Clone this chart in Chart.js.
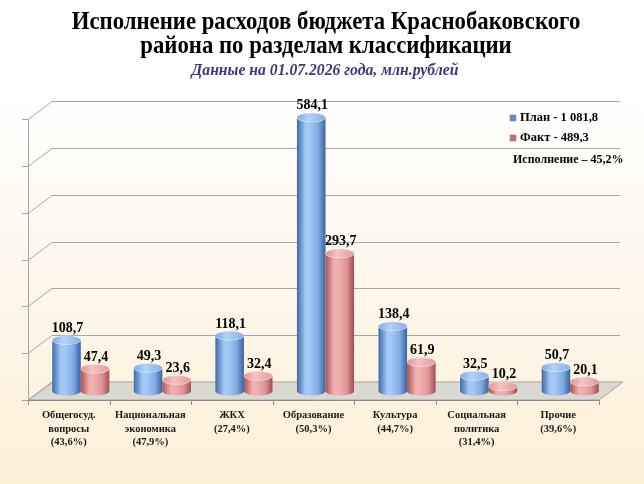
<!DOCTYPE html>
<html><head><meta charset="utf-8">
<script src="https://cdn.jsdelivr.net/npm/chart.js@4.4.1/dist/chart.umd.min.js"></script>
<style>html,body{margin:0;padding:0;background:#fff;}#wrap{width:644px;height:484px;}</style>
</head><body><div id="wrap"><canvas id="c" width="644" height="484"></canvas></div>
<script>
const titleLines = ['Исполнение расходов бюджета Краснобаковского', 'района по разделам классификации'];
const subtitle = 'Данные на 01.07.2026 года, млн.рублей';
const categories = [
  ['Общегосуд.', 'вопросы', '(43,6%)'],
  ['Национальная', 'экономика', '(47,9%)'],
  ['ЖКХ', '(27,4%)'],
  ['Образование', '(50,3%)'],
  ['Культура', '(44,7%)'],
  ['Социальная', 'политика', '(31,4%)'],
  ['Прочие', '(39,6%)']
];
const planValues = [108.7, 49.3, 118.1, 584.1, 138.4, 32.5, 50.7];
const factValues = [47.4, 23.6, 32.4, 293.7, 61.9, 10.2, 20.1];
const seriesLabels = ['План - 1 081,8', 'Факт - 489,3'];
const summaryText = 'Исполнение – 45,2%';
const yTicks = [0, 100, 200, 300, 400, 500, 600];

const DX = 12, DY = 9;
const SERIF = '"Liberation Serif", "Times New Roman", serif';
const fmt = v => v.toFixed(1).replace('.', ',');

const palettes = [
  {edge1:'#3f6aa8', light:'#a3c8f6', mid:'#7faae2', edge2:'#3a62a0', top:'#86afe6', topHi:'#b4d2f8', marker:'#5b8ad0'},
  {edge1:'#a85454', light:'#f0b0b0', mid:'#de9494', edge2:'#a04e4e', top:'#e39a9a', topHi:'#f4c4c4', marker:'#c46f6f'}
];

function drawCylinder(ctx, cx, w, top, base, pal) {
  const r = w / 2, ry = 4.5;
  const g = ctx.createLinearGradient(cx - r, 0, cx + r, 0);
  g.addColorStop(0, pal.edge1);
  g.addColorStop(0.3, pal.light);
  g.addColorStop(0.45, pal.light);
  g.addColorStop(0.75, pal.mid);
  g.addColorStop(1, pal.edge2);
  ctx.save();
  ctx.beginPath();
  ctx.moveTo(cx - r, top);
  ctx.lineTo(cx - r, base);
  ctx.ellipse(cx, base, r, ry, 0, Math.PI, 0, true);
  ctx.lineTo(cx + r, top);
  ctx.ellipse(cx, top, r, ry, 0, 0, Math.PI, false);
  ctx.closePath();
  ctx.fillStyle = g;
  ctx.fill();
  const tg = ctx.createLinearGradient(cx - r, top, cx + r, top);
  tg.addColorStop(0, pal.mid);
  tg.addColorStop(0.4, pal.topHi);
  tg.addColorStop(1, pal.top);
  ctx.beginPath();
  ctx.ellipse(cx, top, r, ry, 0, 0, Math.PI * 2);
  ctx.fillStyle = tg;
  ctx.fill();
  ctx.strokeStyle = 'rgba(255,255,255,0.35)';
  ctx.lineWidth = 0.8;
  ctx.stroke();
  ctx.restore();
}

function condensedText(ctx, text, cx, cy, sx) {
  ctx.save();
  ctx.translate(cx, cy);
  ctx.scale(sx, 1);
  ctx.fillText(text, 0, 0);
  ctx.restore();
}

const scene = {
  id: 'scene',
  beforeDraw(chart) {
    const ctx = chart.ctx, W = chart.width, H = chart.height;
    const {left, right} = chart.chartArea;
    const y = chart.scales.y, x = chart.scales.x;
    ctx.save();
    const bg = ctx.createLinearGradient(0, 0, 0, H);
    bg.addColorStop(0, '#ffffff');
    bg.addColorStop(0.2, '#ffffff');
    bg.addColorStop(1, '#fcefd6');
    ctx.fillStyle = bg;
    ctx.fillRect(0, 0, W, H);
    ctx.fillStyle = '#000';
    ctx.textAlign = 'center';
    ctx.textBaseline = 'alphabetic';
    ctx.font = 'bold 25px ' + SERIF;
    condensedText(ctx, titleLines[0], 326, 29, 0.91);
    condensedText(ctx, titleLines[1], 326, 53, 0.91);
    ctx.fillStyle = '#3b3780';
    ctx.font = 'italic bold 15.7px ' + SERIF;
    ctx.fillText(subtitle, 325, 75);
    ctx.strokeStyle = '#a6a6a6';
    ctx.lineWidth = 1;
    const y0 = y.getPixelForValue(0);
    ctx.beginPath();
    ctx.moveTo(left - DX, y0 + DY);
    ctx.lineTo(right - DX, y0 + DY);
    ctx.lineTo(right + DX, y0 - DY);
    ctx.lineTo(left + DX, y0 - DY);
    ctx.closePath();
    ctx.fillStyle = '#d9d9d2';
    ctx.fill();
    ctx.stroke();
    yTicks.forEach(t => {
      const py = Math.round(y.getPixelForValue(t)) + 0.5;
      ctx.beginPath();
      ctx.moveTo(left - DX - 6, py + DY);
      ctx.lineTo(left - DX, py + DY);
      ctx.lineTo(left + DX, py - DY);
      if (t !== 0) ctx.lineTo(right + DX - 3, py - DY);
      ctx.stroke();
    });
    ctx.beginPath();
    ctx.moveTo(Math.round(left - DX) + 0.5, y.getPixelForValue(yTicks[yTicks.length - 1]) + DY);
    ctx.lineTo(Math.round(left - DX) + 0.5, y0 + DY);
    ctx.stroke();
    ctx.strokeStyle = '#8c8c8c';
    ctx.beginPath();
    ctx.moveTo(left - DX, Math.round(y0 + DY) + 0.5);
    ctx.lineTo(right - DX, Math.round(y0 + DY) + 0.5);
    const catW = (right - left) / categories.length;
    for (let i = 0; i <= categories.length; i++) {
      const px = Math.round(left - DX + i * catW) + 0.5;
      ctx.moveTo(px, y0 + DY);
      ctx.lineTo(px, y0 + DY + 5);
    }
    ctx.stroke();
    ctx.fillStyle = '#1a1a1a';
    ctx.font = 'bold 10.5px ' + SERIF;
    ctx.textAlign = 'center';
    categories.forEach((lines, i) => {
      const cx = x.getPixelForValue(i) - DX;
      lines.forEach((ln, k) => ctx.fillText(ln, cx, y0 + DY + 18 + k * 13.5));
    });
    ctx.restore();
  },
  afterDatasetsDraw(chart) {
    const ctx = chart.ctx;
    chart.data.datasets.forEach((ds, di) => {
      const meta = chart.getDatasetMeta(di);
      meta.data.forEach((el) => {
        drawCylinder(ctx, el.x, el.width, el.y, el.base, palettes[di]);
      });
    });
    ctx.save();
    ctx.fillStyle = '#000';
    ctx.font = 'bold 14px ' + SERIF;
    ctx.textAlign = 'center';
    ctx.textBaseline = 'alphabetic';
    chart.data.datasets.forEach((ds, di) => {
      const meta = chart.getDatasetMeta(di);
      meta.data.forEach((el, i) => {
        ctx.fillText(fmt(ds.data[i]), el.x + 1, el.y - 8);
      });
    });
    ctx.font = 'bold 12.5px ' + SERIF;
    ctx.textAlign = 'left';
    ctx.textBaseline = 'middle';
    chart.data.datasets.forEach((ds, di) => {
      const ly = 118 + di * 20;
      ctx.fillStyle = palettes[di].marker;
      ctx.fillRect(510, ly - 3, 6, 6);
      ctx.strokeStyle = '#888';
      ctx.lineWidth = 0.5;
      ctx.strokeRect(510, ly - 3, 6, 6);
      ctx.fillStyle = '#000';
      ctx.fillText(ds.label, 520, ly);
    });
    ctx.font = 'bold 12px ' + SERIF;
    ctx.fillText(summaryText, 513, 160);
    ctx.restore();
  }
};

new Chart(document.getElementById('c'), {
  type: 'bar',
  data: {
    labels: categories.map(c => c.join(' ')),
    datasets: [
      {label: seriesLabels[0], data: planValues, backgroundColor: 'rgba(0,0,0,0)', borderWidth: 0},
      {label: seriesLabels[1], data: factValues, backgroundColor: 'rgba(0,0,0,0)', borderWidth: 0}
    ]
  },
  options: {
    responsive: false,
    animation: false,
    devicePixelRatio: 1,
    layout: {padding: {left: 40, right: 33, top: 110, bottom: 93}},
    categoryPercentage: 0.7,
    barPercentage: 1.0,
    scales: {
      x: {display: false},
      y: {display: false, min: 0, max: 600}
    },
    plugins: {legend: {display: false}, tooltip: {enabled: false}, title: {display: false}}
  },
  plugins: [scene]
});
</script></body></html>
